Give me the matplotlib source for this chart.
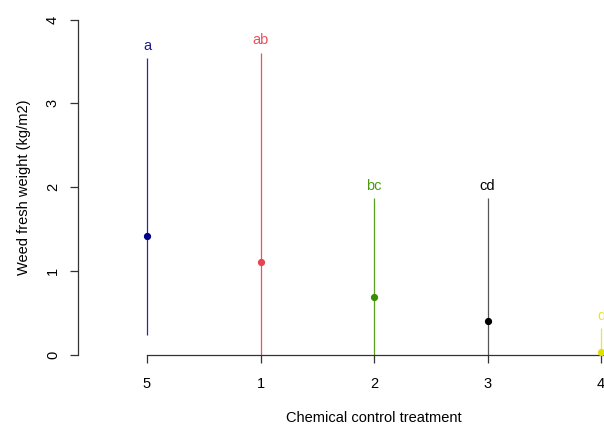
import matplotlib
matplotlib.use("Agg")
import matplotlib.pyplot as plt

categories = ["5", "1", "2", "3", "4"]
means = [1.42, 1.11, 0.69, 0.40, 0.03]
lower = [0.24, 0.0, 0.0, 0.0, 0.0]
upper = [3.54, 3.60, 1.87, 1.87, 0.32]
letters = ["a", "ab", "bc", "cd", "d"]
line_colors = ["#2a2a9a", "#f0505a", "#5aa020", "#555555", "#e8e830"]
dot_colors = ["#00008b", "#e8434f", "#3a8f00", "#000000", "#e0e000"]
text_colors = ["#1a1a90", "#e8505a", "#4a9a10", "#000000", "#e8e820"]

plt.rcParams["font.family"] = ["Liberation Sans", "DejaVu Sans"]

W, H = 604, 426
fig = plt.figure(figsize=(W / 100, H / 100), dpi=100)
left_px, right_px, top_px, bot_px = 78, 604, 19.5, 355
ax = fig.add_axes([left_px / W, 1 - bot_px / H, (right_px - left_px) / W, (bot_px - top_px) / H])

x = list(range(len(categories)))
x0_px, x4_px = 147, 601
unit = (x4_px - x0_px) / 4
ax.set_xlim((left_px - x0_px) / unit, (right_px - x0_px) / unit)
ax.set_ylim(0, 4)

for i in x:
    ax.vlines(i, lower[i], upper[i], color=line_colors[i], lw=0.9, clip_on=False, zorder=2)
    ax.plot(i, means[i], "o", color=dot_colors[i], ms=4.2, clip_on=False, zorder=3)
    ax.annotate(letters[i], (i, upper[i]), xytext=(0, 4), textcoords="offset points",
                ha="center", va="bottom", color=text_colors[i], fontsize=10.5,
                annotation_clip=False)

for s in ["top", "right"]:
    ax.spines[s].set_visible(False)
ax.spines["left"].set_bounds(0, 4)
ax.spines["bottom"].set_bounds(0, (right_px - x0_px) / unit)
for s in ["left", "bottom"]:
    ax.spines[s].set_color("#333333")
    ax.spines[s].set_linewidth(0.9)

ax.set_xticks(x)
ax.set_xticklabels(categories)
ax.set_yticks([0, 1, 2, 3, 4])
ax.set_yticklabels(["0", "1", "2", "3", "4"], rotation=90, va="center")
ax.tick_params(axis="both", length=6, width=0.9, color="#333333", labelsize=10.5)
ax.tick_params(axis="x", pad=10)
ax.tick_params(axis="y", pad=7)

ax.set_xlabel("Chemical control treatment", fontsize=10.5, labelpad=14)
ax.set_ylabel("Weed fresh weight (kg/m2)", fontsize=10.5, labelpad=11)
ax.xaxis.label.set_x((((x0_px + x4_px) / 2) - left_px) / (right_px - left_px))

fig.savefig("out.png", dpi=100)
